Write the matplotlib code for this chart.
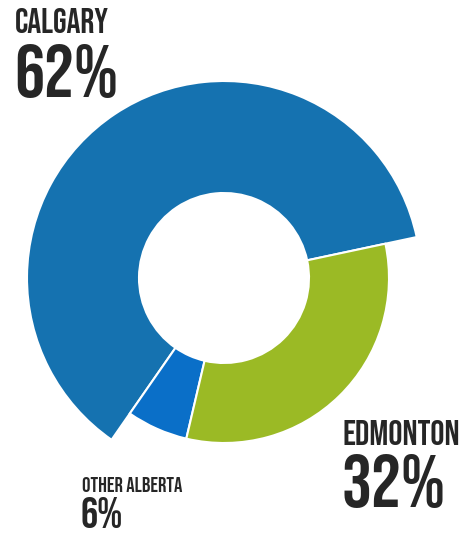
import matplotlib.pyplot as plt
from matplotlib import font_manager

# pie order runs counter-clockwise from the Calgary/Edmonton split
labels = ['CALGARY', 'OTHER ALBERTA', 'EDMONTON']
shares = [62, 6, 32]
colors = ['#1572b0', '#0a6fc8', '#9bba25']

names = {f.name for f in font_manager.fontManager.ttflist}
font = 'DejaVu Sans'
for cand in ['Bebas Neue', 'League Gothic', 'Oswald', 'Fjalla One',
             'Roboto Condensed', 'Liberation Sans Narrow']:
    if cand in names:
        font = cand
        break

W, H = 463, 534
fig = plt.figure(figsize=(W / 100, H / 100), dpi=100)
ax = fig.add_axes([0, 0, 1, 1])

cx, cy = 224, H - 278
inner = 85
wedges, _ = ax.pie(shares, colors=colors, startangle=12, counterclock=True,
                   center=(cx, cy), radius=165, frame=True,
                   wedgeprops=dict(width=165 - inner, edgecolor='white', linewidth=1.5))
# Calgary sticks out further than the rest
wedges[0].set_radius(197)
wedges[0].set_width(197 - inner)
ax.set_xlim(0, W)
ax.set_ylim(0, H)
ax.set_aspect('equal')
ax.axis('off')

txt = '#262626'
kw = dict(family=font, color=txt, va='baseline')
ax.text(15, H - 33, labels[0], fontsize=25, **kw)
ax.text(14, H - 97, f'{shares[0]}%', fontsize=54, **kw)
ax.text(343, H - 445, labels[2], fontsize=25.5, **kw)
ax.text(342, H - 507, f'{shares[2]}%', fontsize=54, **kw)
ax.text(82, H - 492, labels[1], fontsize=15, **kw)
ax.text(81, H - 528, f'{shares[1]}%', fontsize=31, **kw)

fig.savefig('out.png', dpi=100)
